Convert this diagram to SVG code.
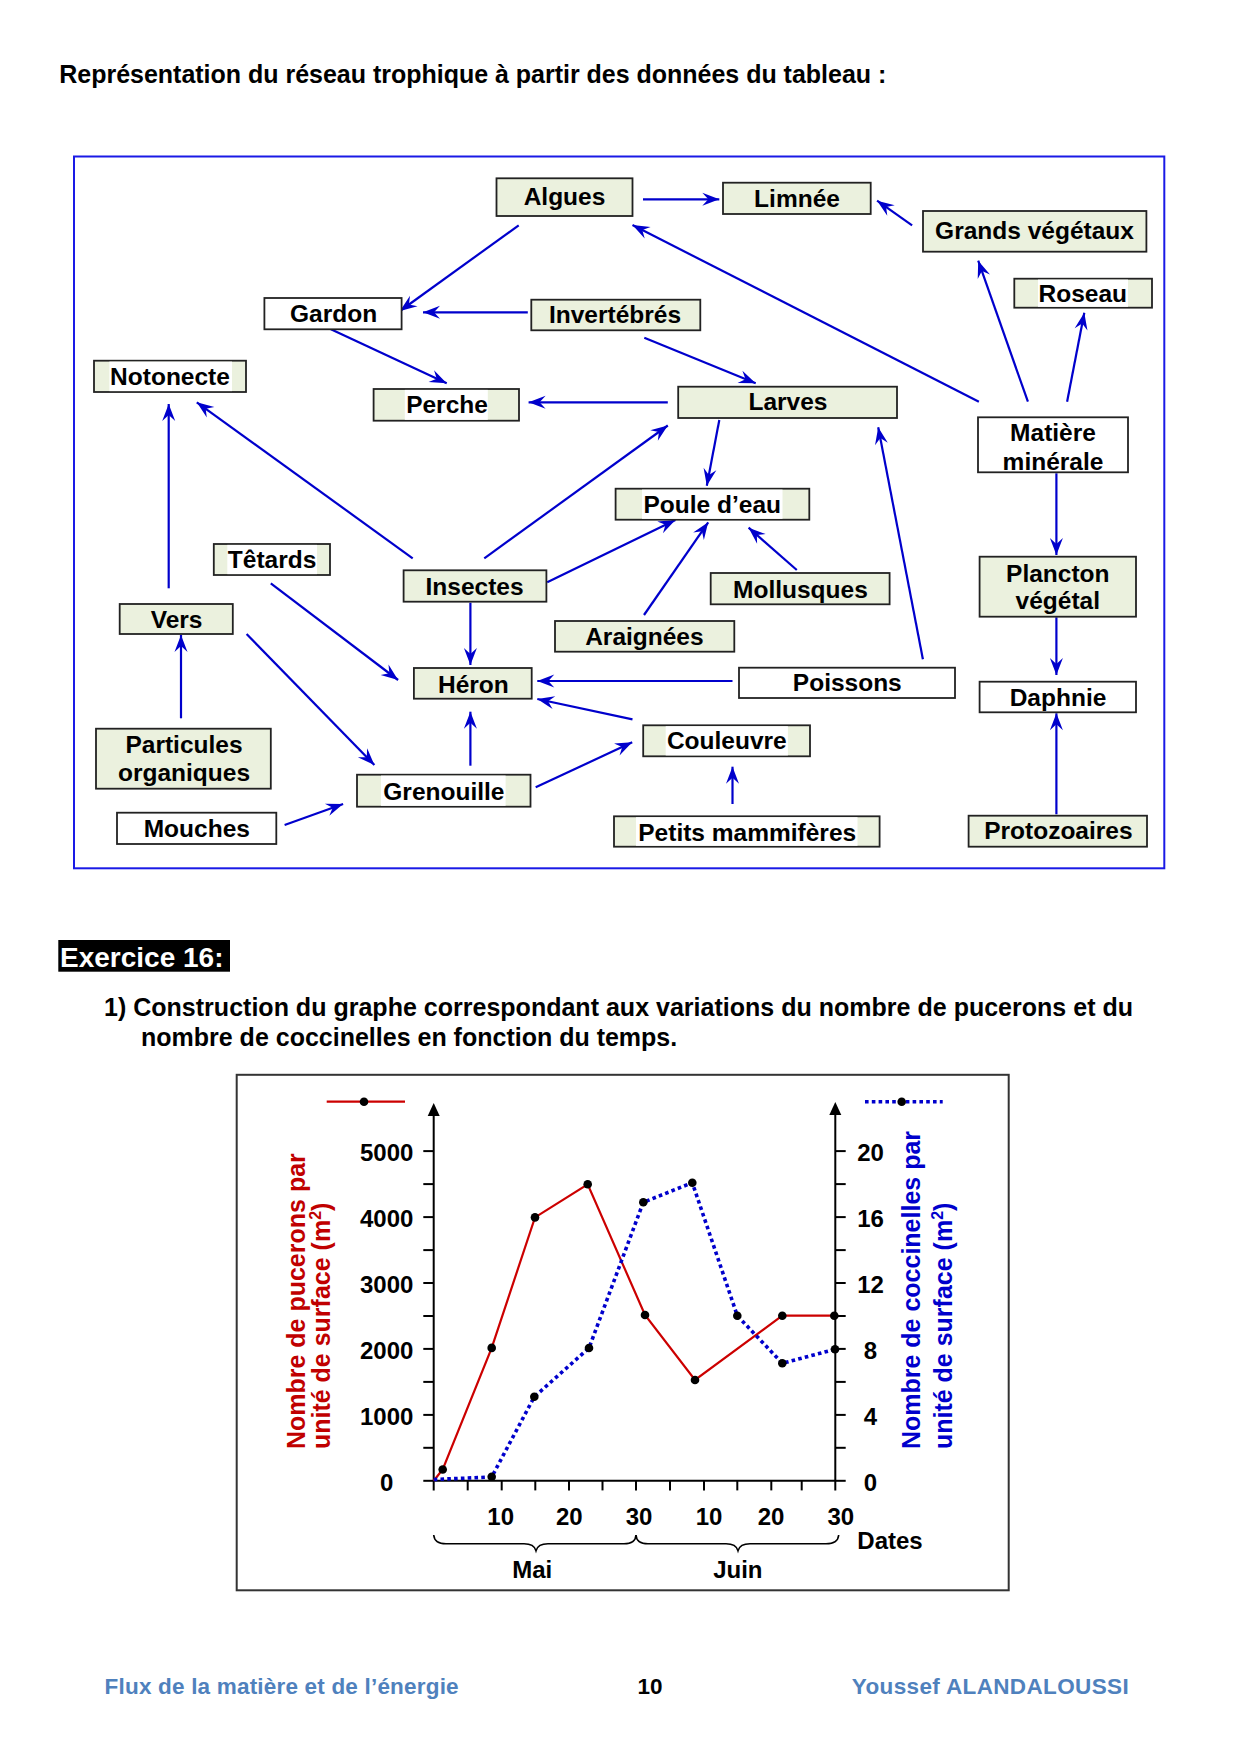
<svg xmlns="http://www.w3.org/2000/svg" width="1240" height="1754" viewBox="0 0 1240 1754">
<defs>
<style>
text{font-family:"Liberation Sans",Arial,sans-serif;font-weight:bold}
.nb{stroke:#222;stroke-width:1.8}
.g{fill:#EBF1DE}
.w{fill:#fff}
.p{fill:#fff;stroke:none}
.t{font-size:24.5px;text-anchor:middle;fill:#000}
.c line{stroke:#0000CC;stroke-width:2.2;marker-end:url(#ah)}
.ax{stroke:#000;stroke-width:2;fill:none}
.tk{stroke:#000;stroke-width:2}
.num{font-size:24px;text-anchor:middle;fill:#000}
.dot{fill:#000}
</style>
<marker id="ah" markerUnits="userSpaceOnUse" viewBox="-18 -8 19 16" markerWidth="19" markerHeight="16" refX="0" refY="0" orient="auto">
<path d="M0,0 L-17,-6.5 L-11,0 L-17,6.5 Z" fill="#0000CC"/>
</marker>
</defs>
<rect width="1240" height="1754" fill="#fff"/>

<text x="59.3" y="83.3" font-size="25" textLength="827" fill="#000">Représentation du réseau trophique à partir des données du tableau :</text>

<rect x="74" y="156.5" width="1090.3" height="711.8" fill="none" stroke="#1A1AE6" stroke-width="2"/>

<g id="connectors" class="c">
<line x1="643" y1="199.3" x2="719.3" y2="199.3"/>
<line x1="518.7" y1="225.3" x2="400" y2="311"/>
<line x1="527.8" y1="312.3" x2="423" y2="312.3"/>
<line x1="330.9" y1="329.3" x2="446.7" y2="383.3"/>
<line x1="667.8" y1="402.3" x2="528.6" y2="402.3"/>
<line x1="412.7" y1="558.3" x2="196.8" y2="402.3"/>
<line x1="168.7" y1="588.3" x2="168.7" y2="404"/>
<line x1="484.3" y1="558.3" x2="667.8" y2="425.5"/>
<line x1="644.3" y1="337.7" x2="755.7" y2="383.3"/>
<line x1="978.9" y1="401.7" x2="632.5" y2="225"/>
<line x1="912.1" y1="225.3" x2="877.1" y2="200.7"/>
<line x1="1027.9" y1="401.7" x2="978.2" y2="260.7"/>
<line x1="1067.1" y1="401.7" x2="1084.3" y2="312.7"/>
<line x1="719.3" y1="420" x2="706.8" y2="485.7"/>
<line x1="922.9" y1="659.3" x2="878.2" y2="427.3"/>
<line x1="1056.4" y1="473.3" x2="1056.4" y2="555"/>
<line x1="1056.4" y1="617.3" x2="1056.4" y2="675"/>
<line x1="1056.4" y1="814.3" x2="1056.4" y2="713.3"/>
<line x1="796.8" y1="570" x2="748.6" y2="527.7"/>
<line x1="644" y1="615" x2="708.2" y2="522.3"/>
<line x1="547.2" y1="582.3" x2="675.4" y2="520"/>
<line x1="732.5" y1="681" x2="537.3" y2="681"/>
<line x1="632.5" y1="719.3" x2="537.3" y2="699"/>
<line x1="535.7" y1="787.3" x2="632.2" y2="742.3"/>
<line x1="732.5" y1="804" x2="732.5" y2="766.7"/>
<line x1="470.4" y1="602.7" x2="470.4" y2="665"/>
<line x1="270.8" y1="583.3" x2="398.1" y2="680"/>
<line x1="470.4" y1="765.7" x2="470.4" y2="711.7"/>
<line x1="246.6" y1="634" x2="374.4" y2="765"/>
<line x1="181" y1="718.3" x2="181" y2="635"/>
<line x1="284.6" y1="825" x2="343.1" y2="804"/>
</g>

<g id="algues"><rect class="nb g" x="496.5" y="178.3" width="136" height="37.7"/><text class="t" x="564.5" y="205">Algues</text></g>
<g id="limnee"><rect class="nb g" x="723" y="182.7" width="147.7" height="31.3"/><text class="t" x="797" y="207.3">Limnée</text></g>
<g id="grands-vegetaux"><rect class="nb g" x="923" y="211" width="223.4" height="40.7"/><text class="t" x="1034.5" y="238.5">Grands végétaux</text></g>
<g id="roseau"><rect class="nb g" x="1014.3" y="278.7" width="137.7" height="29"/><rect class="p" x="1038" y="279.6" width="90" height="27.2"/><text class="t" x="1082.8" y="302.3">Roseau</text></g>
<g id="gardon"><rect class="nb w" x="264.4" y="298" width="137.2" height="31.3"/><text class="t" x="333.6" y="322.3">Gardon</text></g>
<g id="invertebres"><rect class="nb g" x="531.3" y="299.7" width="169" height="30.6"/><text class="t" x="615" y="323.3">Invertébrés</text></g>
<g id="notonecte"><rect class="nb g" x="94" y="360.7" width="152" height="31.3"/><rect class="p" x="109.4" y="361.6" width="122.6" height="29.5"/><text class="t" x="170" y="385">Notonecte</text></g>
<g id="perche"><rect class="nb g" x="373.6" y="389" width="145.4" height="31.7"/><rect class="p" x="404.8" y="389.9" width="83" height="29.9"/><text class="t" x="447" y="413.3">Perche</text></g>
<g id="larves"><rect class="nb g" x="678.2" y="386.7" width="218.8" height="31.3"/><text class="t" x="788" y="410">Larves</text></g>
<g id="matiere-minerale"><rect class="nb w" x="978" y="417.3" width="150" height="55"/><text class="t" x="1053" y="441">Matière</text><text class="t" x="1053" y="469.5">minérale</text></g>
<g id="poule-deau"><rect class="nb g" x="615.6" y="488.7" width="193.7" height="31"/><rect class="p" x="642" y="489.6" width="140.5" height="29.2"/><text class="t" x="712.3" y="512.7">Poule d’eau</text></g>
<g id="tetards"><rect class="nb g" x="213.8" y="544" width="116.2" height="31"/><rect class="p" x="227.3" y="544.9" width="89.7" height="29.2"/><text class="t" x="272.1" y="568.3">Têtards</text></g>
<g id="insectes"><rect class="nb g" x="403.6" y="570.3" width="142.8" height="31.4"/><text class="t" x="474.6" y="595">Insectes</text></g>
<g id="mollusques"><rect class="nb g" x="710.7" y="573" width="178.9" height="31.3"/><text class="t" x="800.4" y="597.7">Mollusques</text></g>
<g id="vers"><rect class="nb g" x="119.7" y="604" width="113.1" height="30"/><text class="t" x="176.6" y="628.3">Vers</text></g>
<g id="araignees"><rect class="nb g" x="555" y="621" width="179.3" height="30.7"/><text class="t" x="644.4" y="644.5">Araignées</text></g>
<g id="plancton-vegetal"><rect class="nb g" x="979.6" y="556.7" width="156.4" height="60"/><text class="t" x="1057.8" y="581.7">Plancton</text><text class="t" x="1057.8" y="609.3">végétal</text></g>
<g id="heron"><rect class="nb g" x="413.9" y="668" width="117.8" height="30.7"/><text class="t" x="473.4" y="692.7">Héron</text></g>
<g id="poissons"><rect class="nb w" x="739" y="667.7" width="216" height="30.3"/><text class="t" x="847.3" y="691">Poissons</text></g>
<g id="daphnie"><rect class="nb w" x="979.6" y="681.7" width="156.4" height="30.6"/><text class="t" x="1058" y="706">Daphnie</text></g>
<g id="couleuvre"><rect class="nb g" x="643.2" y="725.3" width="166.8" height="31"/><rect class="p" x="665.7" y="726.2" width="122.2" height="29.2"/><text class="t" x="726.8" y="749.3">Couleuvre</text></g>
<g id="particules-organiques"><rect class="nb g" x="96" y="728.7" width="174.8" height="60"/><text class="t" x="184" y="753.3">Particules</text><text class="t" x="184" y="781">organiques</text></g>
<g id="grenouille"><rect class="nb g" x="357" y="774.7" width="173.5" height="32"/><rect class="p" x="381" y="775.6" width="124.6" height="30.2"/><text class="t" x="443.9" y="800">Grenouille</text></g>
<g id="mouches"><rect class="nb w" x="117" y="812.7" width="159.3" height="31.3"/><text class="t" x="196.8" y="836.7">Mouches</text></g>
<g id="petits-mammiferes"><rect class="nb g" x="614" y="816.3" width="265.6" height="30.4"/><rect class="p" x="636" y="817.2" width="221.5" height="28.6"/><text class="t" x="747.2" y="840.7">Petits mammifères</text></g>
<g id="protozoaires"><rect class="nb g" x="968.6" y="815.7" width="178.4" height="31"/><text class="t" x="1058.4" y="839.3">Protozoaires</text></g>

<rect x="58.3" y="940" width="171.7" height="31.7" fill="#000"/>
<text x="60" y="966.7" font-size="28" fill="#fff">Exercice 16:</text>
<text x="104" y="1015.5" font-size="25" textLength="1029" fill="#000">1) Construction du graphe correspondant aux variations du nombre de pucerons et du</text>
<text x="141" y="1045.5" font-size="25" fill="#000">nombre de coccinelles en fonction du temps.</text>

<g id="chart">
<rect x="236.7" y="1074.8" width="772" height="515.5" fill="none" stroke="#333" stroke-width="2"/>
<line class="ax" x1="433.7" y1="1490.4" x2="433.7" y2="1112"/>
<path d="M433.7,1103 L427.7,1116 L439.7,1116 Z" fill="#000"/>
<line class="ax" x1="835.3" y1="1490.4" x2="835.3" y2="1112"/>
<path d="M835.3,1102 L829.3,1115 L841.3,1115 Z" fill="#000"/>
<line class="ax" x1="433.7" y1="1480.8" x2="835.3" y2="1480.8"/>
<g class="tk">
<line x1="423.3" y1="1151.1" x2="433.7" y2="1151.1"/><line x1="423.3" y1="1184.1" x2="433.7" y2="1184.1"/>
<line x1="423.3" y1="1217.1" x2="433.7" y2="1217.1"/><line x1="423.3" y1="1250.1" x2="433.7" y2="1250.1"/>
<line x1="423.3" y1="1283" x2="433.7" y2="1283"/><line x1="423.3" y1="1316" x2="433.7" y2="1316"/>
<line x1="423.3" y1="1348.9" x2="433.7" y2="1348.9"/><line x1="423.3" y1="1381.9" x2="433.7" y2="1381.9"/>
<line x1="423.3" y1="1414.9" x2="433.7" y2="1414.9"/><line x1="423.3" y1="1447.8" x2="433.7" y2="1447.8"/>
<line x1="423.3" y1="1480.8" x2="433.7" y2="1480.8"/>
<line x1="835.3" y1="1151.1" x2="845.7" y2="1151.1"/><line x1="835.3" y1="1184.1" x2="845.7" y2="1184.1"/>
<line x1="835.3" y1="1217.1" x2="845.7" y2="1217.1"/><line x1="835.3" y1="1250.1" x2="845.7" y2="1250.1"/>
<line x1="835.3" y1="1283" x2="845.7" y2="1283"/><line x1="835.3" y1="1316" x2="845.7" y2="1316"/>
<line x1="835.3" y1="1348.9" x2="845.7" y2="1348.9"/><line x1="835.3" y1="1381.9" x2="845.7" y2="1381.9"/>
<line x1="835.3" y1="1414.9" x2="845.7" y2="1414.9"/><line x1="835.3" y1="1447.8" x2="845.7" y2="1447.8"/>
<line x1="835.3" y1="1480.8" x2="845.7" y2="1480.8"/>
<line x1="467.7" y1="1480.8" x2="467.7" y2="1490.4"/><line x1="501.7" y1="1480.8" x2="501.7" y2="1490.4"/>
<line x1="535.3" y1="1480.8" x2="535.3" y2="1490.4"/><line x1="569" y1="1480.8" x2="569" y2="1490.4"/>
<line x1="602.5" y1="1480.8" x2="602.5" y2="1490.4"/><line x1="636" y1="1480.8" x2="636" y2="1490.4"/>
<line x1="670" y1="1480.8" x2="670" y2="1490.4"/><line x1="704" y1="1480.8" x2="704" y2="1490.4"/>
<line x1="737.3" y1="1480.8" x2="737.3" y2="1490.4"/><line x1="771.3" y1="1480.8" x2="771.3" y2="1490.4"/>
<line x1="801.7" y1="1480.8" x2="801.7" y2="1490.4"/>
</g>
<text class="num" x="386.7" y="1161.4">5000</text>
<text class="num" x="386.7" y="1227.4">4000</text>
<text class="num" x="386.7" y="1293.3">3000</text>
<text class="num" x="386.7" y="1359.2">2000</text>
<text class="num" x="386.7" y="1425.2">1000</text>
<text class="num" x="386.7" y="1491.1">0</text>
<text class="num" x="870.5" y="1161.4">20</text>
<text class="num" x="870.5" y="1227.4">16</text>
<text class="num" x="870.5" y="1293.3">12</text>
<text class="num" x="870.5" y="1359.2">8</text>
<text class="num" x="870.5" y="1425.2">4</text>
<text class="num" x="870.5" y="1491.1">0</text>
<text class="num" x="500.7" y="1524.9">10</text>
<text class="num" x="569.3" y="1524.9">20</text>
<text class="num" x="639" y="1524.9">30</text>
<text class="num" x="709" y="1524.9">10</text>
<text class="num" x="771" y="1524.9">20</text>
<text class="num" x="840.8" y="1524.9">30</text>
<text x="857.3" y="1549" font-size="24" fill="#000">Dates</text>
<path d="M433.7,1535 Q434.5,1543.8 446,1543.8 L524,1543.8 Q534,1543.8 536,1550.7 Q538,1543.8 548,1543.8 L624,1543.8 Q635.5,1543.8 636,1535" fill="none" stroke="#000" stroke-width="1.6"/>
<path d="M636,1535 Q636.5,1543.8 648,1543.8 L726,1543.8 Q736,1543.8 738,1550.7 Q740,1543.8 750,1543.8 L826,1543.8 Q838,1543.8 838.7,1535" fill="none" stroke="#000" stroke-width="1.6"/>
<text class="num" x="532.2" y="1578.2">Mai</text>
<text class="num" x="737.8" y="1578.2">Juin</text>

<polyline points="433.7,1480.8 442.7,1469.5 491.7,1347.9 535,1217.4 587.7,1184.3 645,1315 695,1380 782.3,1315.7 834.3,1315.7" fill="none" stroke="#CC0000" stroke-width="2.2"/>
<polyline points="433.7,1479.5 491.7,1477 534.3,1396.8 589,1348 643.3,1202.3 692.3,1182.7 737.3,1315.7 782.3,1363.3 835,1349.3" fill="none" stroke="#0000CC" stroke-width="3.6" stroke-dasharray="3.6,3.2"/>
<g class="dot">
<circle cx="442.7" cy="1469.5" r="4.3"/><circle cx="491.7" cy="1347.9" r="4.3"/><circle cx="535" cy="1217.4" r="4.3"/><circle cx="587.7" cy="1184.3" r="4.3"/>
<circle cx="645" cy="1315" r="4.3"/><circle cx="695" cy="1380" r="4.3"/><circle cx="782.3" cy="1315.7" r="4.3"/><circle cx="834.3" cy="1315.7" r="4.3"/>
<circle cx="491.7" cy="1476.7" r="4.3"/><circle cx="534.3" cy="1396.8" r="4.3"/><circle cx="589" cy="1348" r="4.3"/><circle cx="643.3" cy="1202.3" r="4.3"/>
<circle cx="692.3" cy="1182.7" r="4.3"/><circle cx="737.3" cy="1315.7" r="4.3"/><circle cx="782.3" cy="1363.3" r="4.3"/><circle cx="835" cy="1349.3" r="4.3"/>
</g>
<line x1="326.7" y1="1101.7" x2="405" y2="1101.7" stroke="#CC0000" stroke-width="2.2"/>
<circle cx="364" cy="1101.7" r="4.3" fill="#000"/>
<line x1="865" y1="1101.7" x2="942.7" y2="1101.7" stroke="#0000CC" stroke-width="3.6" stroke-dasharray="3.6,3.2"/>
<circle cx="901.7" cy="1101.7" r="4.3" fill="#000"/>
<text transform="translate(304.6,1449.1) rotate(-90)" font-size="25" fill="#C00000">Nombre de pucerons par</text>
<text transform="translate(330,1449.1) rotate(-90)" font-size="25" fill="#C00000">unité de surface (m<tspan font-size="16" dy="-9">2</tspan><tspan dy="9">)</tspan></text>
<text transform="translate(919.6,1449.1) rotate(-90)" font-size="25" fill="#0000CC">Nombre de coccinelles par</text>
<text transform="translate(951.5,1449.1) rotate(-90)" font-size="25" fill="#0000CC">unité de surface (m<tspan font-size="16" dy="-9">2</tspan><tspan dy="9">)</tspan></text>
</g>

<text x="104.6" y="1694" font-size="22.5" textLength="354" fill="#4F81BD">Flux de la matière et de l’énergie</text>
<text x="650" y="1694" font-size="22.5" text-anchor="middle" fill="#000">10</text>
<text x="851.7" y="1694" font-size="22.5" textLength="277" fill="#4F81BD">Youssef ALANDALOUSSI</text>
</svg>
